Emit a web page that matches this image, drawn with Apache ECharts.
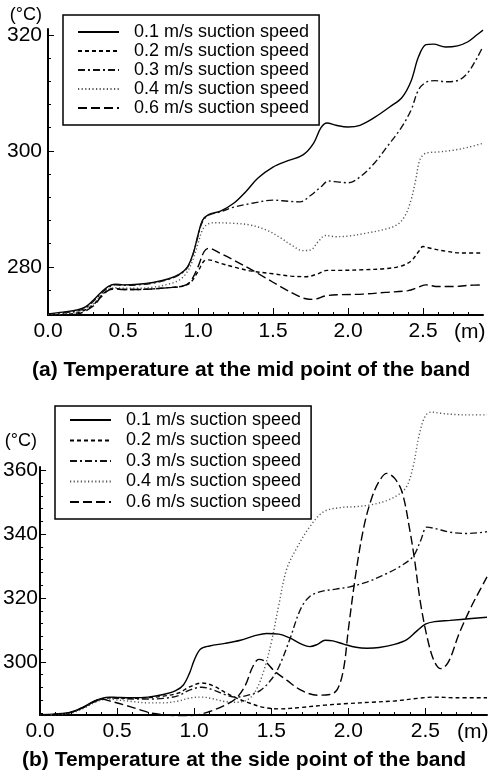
<!DOCTYPE html>
<html>
<head>
<meta charset="utf-8">
<script src="https://cdn.jsdelivr.net/npm/echarts@6/dist/echarts.min.js"></script>
<style>
  html, body { margin: 0; padding: 0; background: #fff; }
  #chart { width: 492px; height: 778px; }
</style>
</head>
<body>
<div id="chart"></div>
<script>
// series names
var names = [
  "0.1 m/s suction speed",
  "0.2 m/s suction speed",
  "0.3 m/s suction speed",
  "0.4 m/s suction speed",
  "0.6 m/s suction speed"
];

// (a) mid point of the band, [m, °C]
var mid01 = [[0,271.9],[0.1,272.2],[0.2,272.6],[0.25,273.1],[0.3,274.2],[0.35,275.5],[0.4,276.6],[0.45,277.0],[0.5,276.9],[0.6,277.0],[0.7,277.3],[0.8,277.9],[0.88,278.8],[0.93,280.0],[0.97,282.5],[1.0,285.5],[1.03,288.0],[1.07,289.0],[1.15,289.6],[1.24,291.0],[1.32,293.0],[1.4,295.3],[1.5,297.2],[1.6,298.3],[1.7,299.3],[1.77,301.3],[1.82,304.0],[1.86,304.8],[1.92,304.4],[2.0,304.1],[2.08,304.4],[2.18,305.8],[2.28,307.6],[2.36,309.2],[2.42,312.0],[2.47,316.2],[2.52,318.3],[2.57,318.4],[2.65,317.9],[2.73,318.1],[2.8,318.8],[2.86,320.0],[2.9,320.8]];
var mid02 = [[0,271.6],[0.1,271.8],[0.2,272.1],[0.3,273.4],[0.35,274.9],[0.4,276.0],[0.45,276.3],[0.5,276.1],[0.6,276.1],[0.7,276.2],[0.8,276.4],[0.9,276.7],[0.95,277.3],[1.0,279.2],[1.04,281.0],[1.07,281.2],[1.15,280.6],[1.25,279.9],[1.35,279.3],[1.5,278.8],[1.62,278.4],[1.72,278.3],[1.8,278.8],[1.86,279.4],[1.95,279.4],[2.1,279.5],[2.25,279.7],[2.35,280.1],[2.42,281.0],[2.47,282.6],[2.5,283.5],[2.55,283.2],[2.65,282.7],[2.75,282.4],[2.9,282.4]];
var mid03 = [[0,271.8],[0.1,272.1],[0.2,272.4],[0.25,272.9],[0.3,274.0],[0.35,275.3],[0.4,276.4],[0.45,276.9],[0.5,276.8],[0.6,276.9],[0.7,277.2],[0.8,277.8],[0.88,278.7],[0.93,279.9],[0.97,282.4],[1.0,285.3],[1.03,287.8],[1.07,288.9],[1.15,289.5],[1.24,290.3],[1.37,291.0],[1.5,291.5],[1.6,291.3],[1.68,291.2],[1.75,292.3],[1.82,293.8],[1.87,294.8],[1.94,294.6],[2.0,294.5],[2.08,295.5],[2.18,298.0],[2.26,300.7],[2.35,303.8],[2.42,307.0],[2.47,310.5],[2.52,311.8],[2.58,312.1],[2.66,311.9],[2.74,312.2],[2.8,313.5],[2.86,316.0],[2.9,318.0]];
var mid04 = [[0,271.7],[0.1,271.9],[0.2,272.3],[0.3,273.6],[0.35,275.0],[0.4,276.1],[0.45,276.4],[0.5,276.3],[0.6,276.3],[0.7,276.5],[0.8,277.0],[0.88,277.8],[0.93,279.2],[0.97,281.5],[1.0,284.0],[1.04,286.8],[1.1,287.6],[1.24,287.5],[1.35,287.2],[1.46,286.3],[1.55,285.0],[1.62,283.8],[1.7,282.8],[1.75,282.9],[1.8,284.3],[1.85,285.4],[1.92,285.2],[2.0,285.3],[2.12,285.8],[2.25,286.5],[2.33,287.3],[2.38,288.8],[2.42,291.5],[2.45,294.8],[2.48,298.5],[2.52,299.6],[2.6,299.8],[2.7,300.1],[2.8,300.6],[2.9,301.3]];
var mid06 = [[0,271.6],[0.1,271.7],[0.2,271.9],[0.3,273.2],[0.35,274.7],[0.4,275.9],[0.45,276.2],[0.5,276.1],[0.6,276.1],[0.7,276.2],[0.8,276.4],[0.9,276.7],[0.95,277.5],[1.0,280.0],[1.04,282.6],[1.07,283.2],[1.15,282.3],[1.25,281.0],[1.35,279.6],[1.45,278.1],[1.55,276.6],[1.65,275.2],[1.72,274.5],[1.77,274.4],[1.85,275.0],[1.95,275.2],[2.1,275.3],[2.25,275.6],[2.4,275.9],[2.47,276.5],[2.52,276.9],[2.6,276.6],[2.7,276.6],[2.8,276.8],[2.9,276.9]];

// (b) side point of the band, [m, °C]
var side01 = [[0,283.5],[0.1,283.7],[0.2,284.3],[0.28,285.9],[0.35,287.7],[0.4,288.6],[0.45,289.0],[0.5,288.9],[0.6,288.8],[0.7,289.0],[0.8,289.8],[0.88,291.0],[0.93,292.8],[0.97,296.5],[1.0,300.5],[1.04,304.0],[1.1,305.0],[1.2,305.8],[1.3,306.8],[1.4,308.3],[1.47,308.9],[1.55,308.7],[1.62,307.5],[1.7,305.5],[1.75,304.8],[1.8,305.5],[1.85,306.8],[1.9,306.6],[1.97,305.6],[2.05,304.6],[2.12,304.3],[2.2,304.5],[2.3,305.5],[2.38,307.0],[2.44,309.5],[2.5,311.8],[2.56,312.6],[2.66,313.0],[2.8,313.6],[2.9,314.0]];
var side02 = [[0,283.4],[0.1,283.6],[0.2,284.2],[0.28,285.7],[0.35,287.5],[0.4,288.4],[0.45,288.8],[0.5,288.7],[0.6,288.6],[0.7,288.8],[0.8,289.3],[0.9,290.3],[0.97,292.2],[1.05,293.4],[1.12,292.6],[1.2,290.5],[1.27,288.8],[1.35,287.3],[1.45,285.8],[1.55,285.3],[1.7,285.8],[1.85,286.5],[2.0,287.0],[2.15,287.4],[2.3,287.8],[2.45,288.6],[2.55,289.0],[2.7,288.8],[2.9,288.8]];
var side03 = [[0,283.4],[0.1,283.6],[0.2,284.2],[0.28,285.7],[0.35,287.5],[0.4,288.4],[0.45,288.8],[0.5,288.6],[0.6,288.4],[0.7,288.4],[0.8,288.6],[0.9,289.5],[0.97,291.2],[1.05,292.1],[1.12,291.3],[1.2,289.8],[1.27,289.0],[1.35,289.6],[1.43,291.1],[1.5,294.5],[1.55,298.5],[1.62,307.0],[1.69,316.5],[1.75,320.5],[1.82,322.0],[1.92,322.8],[2.01,323.5],[2.12,325.0],[2.22,327.0],[2.33,329.7],[2.42,333.0],[2.47,338.0],[2.51,342.2],[2.56,341.8],[2.66,340.6],[2.77,340.2],[2.88,340.6],[2.9,340.8]];
var side04 = [[0,283.4],[0.1,283.5],[0.2,284.0],[0.28,285.4],[0.35,287.2],[0.4,288.1],[0.45,288.4],[0.5,288.1],[0.6,287.6],[0.7,287.2],[0.8,287.2],[0.9,287.8],[0.97,288.7],[1.05,289.0],[1.12,288.5],[1.2,287.6],[1.28,287.4],[1.35,288.3],[1.4,291.0],[1.45,297.0],[1.5,306.0],[1.55,318.0],[1.6,329.0],[1.67,336.0],[1.75,342.3],[1.84,347.0],[1.95,348.3],[2.05,348.6],[2.15,349.2],[2.25,350.5],[2.33,352.5],[2.38,355.0],[2.42,361.0],[2.46,371.0],[2.5,377.0],[2.54,378.2],[2.6,377.8],[2.7,377.4],[2.8,377.3],[2.9,377.3]];
var side06 = [[0,283.4],[0.1,283.6],[0.2,284.2],[0.28,285.8],[0.35,287.6],[0.4,288.4],[0.45,287.8],[0.55,286.5],[0.65,285.0],[0.72,284.0],[0.8,283.5],[0.9,283.2],[1.0,283.3],[1.1,284.5],[1.2,286.5],[1.27,288.5],[1.33,292.5],[1.38,298.5],[1.42,300.8],[1.46,300.2],[1.52,297.2],[1.6,294.3],[1.7,291.0],[1.8,289.6],[1.88,289.8],[1.93,291.5],[1.97,298.0],[2.0,310.0],[2.05,328.0],[2.1,342.0],[2.15,351.0],[2.2,356.5],[2.25,359.0],[2.3,357.5],[2.35,353.0],[2.4,341.0],[2.43,332.0],[2.47,318.0],[2.52,306.0],[2.56,300.0],[2.6,297.9],[2.65,300.0],[2.72,309.0],[2.8,317.5],[2.86,323.0],[2.9,326.6]];

// ticks
var xLabels = [0, 0.5, 1.0, 1.5, 2.0, 2.5];
var xMinor = [0,0.1,0.2,0.3,0.4,0.5,0.6,0.7,0.8,0.9,1.0,1.1,1.2,1.3,1.4,1.5,1.6,1.7,1.8,1.9,2.0,2.1,2.2,2.3,2.4,2.5,2.6,2.7,2.8];
var midYLabels = [280, 300, 320];
var midYMinor = [272,276,280,284,288,292,296,300,304,308,312,316,320];
var sideYLabels = [300, 320, 340, 360];
var sideYMinor = [284,288,292,296,300,304,308,312,316,320,324,328,332,336,340,344,348,352,356,360];

var FONT = "'Liberation Sans', Arial, sans-serif";
var dashes = ["solid", [4, 3], [7, 3, 2, 3], [1.2, 2.4], [9, 4]];
var lineColors = ["#000", "#000", "#111", "#555", "#000"];

function xAxes(grid, min, max, nameGap) {
  return [{
    gridIndex: grid, type: "value", min: min, max: max, position: "bottom",
    splitLine: { show: false },
    axisLine: { lineStyle: { color: "#000", width: 2 } },
    axisTick: { inside: true, length: 3, customValues: xMinor, lineStyle: { color: "#000" } },
    axisLabel: {
      customValues: xLabels, margin: 6, color: "#000", fontSize: 21, fontFamily: FONT,
      formatter: function (v) { return v.toFixed(1); }
    },
    name: "(m)", nameLocation: "end", nameGap: nameGap,
    nameTextStyle: { color: "#000", fontSize: 21, fontFamily: FONT, align: "left", verticalAlign: "top", padding: [7, 0, 0, 0] }
  }, {
    gridIndex: grid, type: "value", min: min, max: max, position: "bottom",
    splitLine: { show: false }, axisLine: { show: false }, axisLabel: { show: false },
    axisTick: { inside: true, length: 7, customValues: xLabels, lineStyle: { color: "#000" } }
  }];
}

function yAxes(grid, min, max, labels, minor, margin, nameGap, namePad) {
  return [{
    gridIndex: grid, type: "value", min: min, max: max, position: "left",
    splitLine: { show: false },
    axisLine: { lineStyle: { color: "#000", width: 2 } },
    axisTick: { inside: true, length: 3, customValues: minor, lineStyle: { color: "#000" } },
    axisLabel: { customValues: labels, margin: margin, color: "#000", fontSize: 21, fontFamily: FONT },
    name: "(\u00b0C)", nameLocation: "end", nameGap: nameGap,
    nameTextStyle: { color: "#000", fontSize: 18, fontFamily: FONT, align: "right", verticalAlign: "bottom", padding: [0, namePad, 0, 0] }
  }, {
    gridIndex: grid, type: "value", min: min, max: max, position: "left",
    splitLine: { show: false }, axisLine: { show: false }, axisLabel: { show: false },
    axisTick: { inside: true, length: 6, customValues: labels, lineStyle: { color: "#000" } }
  }];
}

function makeSeries(list, xi, yi, clip) {
  return list.map(function (d, i) {
    return {
      name: names[i], type: "line", xAxisIndex: xi, yAxisIndex: yi,
      data: d, showSymbol: false, symbol: "none", smooth: 0.35, clip: clip,
      lineStyle: { color: lineColors[i], width: 1.4, type: dashes[i] },
      itemStyle: { color: lineColors[i] }
    };
  });
}

function legend(left, top, gap, pad) {
  return {
    orient: "vertical", left: left, top: top, data: names,
    itemWidth: 41, itemHeight: 14, itemGap: gap, padding: pad,
    borderColor: "#000", borderWidth: 1.5, backgroundColor: "#fff",
    selectedMode: false,
    itemStyle: { opacity: 0 },
    textStyle: { color: "#000", fontSize: 18, fontFamily: FONT, padding: [0, 0, 0, 10] }
  };
}

var chart = echarts.init(document.getElementById("chart"), null, { renderer: "canvas" });
chart.setOption({
  backgroundColor: "#fff",
  animation: false,
  title: [
    { text: "(a) Temperature at the mid point of the band", left: 32, top: 360,
      textStyle: { fontSize: 21, fontWeight: "bold", fontFamily: FONT, color: "#000" }, padding: 0 },
    { text: "(b) Temperature at the side point of the band", left: 22, top: 750,
      textStyle: { fontSize: 21, fontWeight: "bold", fontFamily: FONT, color: "#000" }, padding: 0 }
  ],
  grid: [
    { left: 48, top: 29, width: 435, height: 286 },
    { left: 40, top: 467, width: 447, height: 248 }
  ],
  xAxis: xAxes(0, 0, 2.9, -29).concat(xAxes(1, 0, 2.9, -30)),
  yAxis: yAxes(0, 271.7, 321, midYLabels, midYMinor, 6, 5, 6)
    .concat(yAxes(1, 283.4, 361, sideYLabels, sideYMinor, 2, 17, 3)),
  legend: [
    legend(63, 15, 1, [8, 10, 8, 14]),
    legend(55, 406, 2.5, [5, 10, 8, 14])
  ],
  series: makeSeries([mid01, mid02, mid03, mid04, mid06], 0, 0, true)
    .concat(makeSeries([side01, side02, side03, side04, side06], 2, 2, false))
});
</script>
</body>
</html>
